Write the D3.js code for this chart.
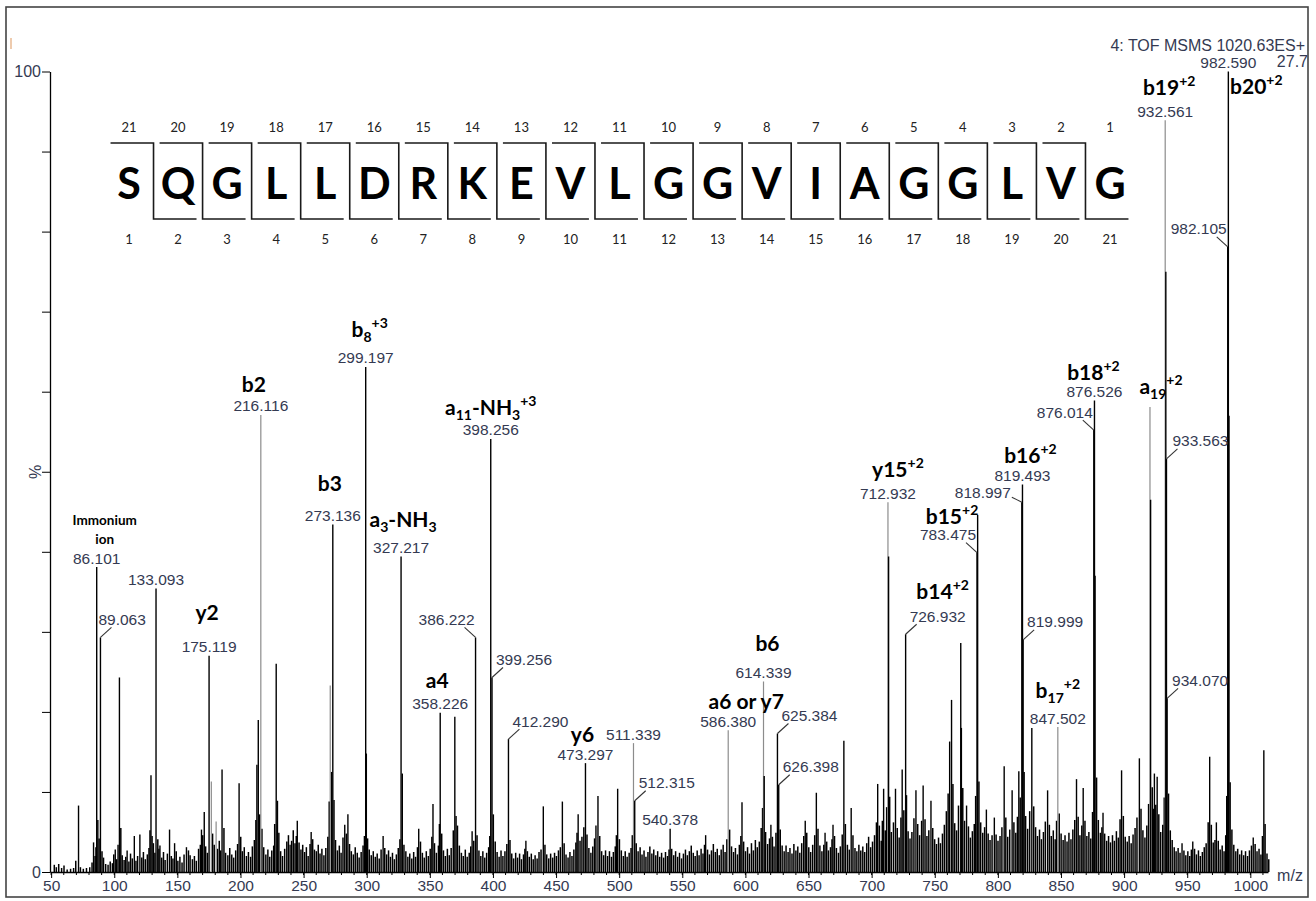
<!DOCTYPE html>
<html>
<head>
<meta charset="utf-8">
<script src="https://cdn.jsdelivr.net/npm/d3@7/dist/d3.min.js"></script>
<style>
  html, body { margin: 0; padding: 0; background: #fff; }
  svg { display: block; }
</style>
</head>
<body>
<div id="chart"></div>
<script>
// peptide sequence (b ions numbered below, y ions above)
const residues = ["S","Q","G","L","L","D","R","K","E","V","L","G","G","V","I","A","G","G","L","V","G"];

// main peaks: [m/z, relative intensity %]
const majorPeaks = [
  [71.7, 8.3], [83.6, 3.7], [86.101, 38.1], [87.0, 6.5], [89.063, 29.3], [100.8, 2.8], [103.0, 3.4],
  [104.1, 24.3], [110.2, 2.7], [115.9, 4.5], [120.3, 4.7], [129.1, 12.1], [130.0, 4.5], [133.093, 35.4],
  [136.2, 3.3], [143.8, 5.3], [147.8, 3.6], [157.2, 3.1], [169.1, 5.3], [171.3, 7.5], [175.119, 27.0],
  [176.9, 11.3], [180.7, 6.3], [185.4, 12.8], [198.9, 11.1], [213.0, 13.4], [214.1, 19.0], [216.116, 57.1],
  [228.3, 26.0], [229.3, 8.9], [239.3, 3.4], [245.0, 6.4], [256.0, 5.0], [271.1, 23.3], [273.136, 43.4],
  [274.1, 9.0], [282.6, 5.9], [285.1, 7.2], [299.197, 63.1], [299.7, 14.8], [313.0, 4.5], [327.217, 39.4],
  [328.2, 12.3], [341.2, 5.4], [352.5, 8.5], [358.226, 19.9], [369.8, 19.4], [370.8, 7.0], [383.5, 5.1],
  [386.222, 29.3], [398.256, 54.1], [399.256, 24.3], [412.290, 16.6], [426.1, 3.9], [439.9, 8.2],
  [455.0, 8.8], [467.5, 7.2], [473.297, 13.6], [481.6, 5.8], [483.2, 9.5], [498.8, 10.4], [511.339, 16.1],
  [512.315, 8.9], [540.378, 5.4], [568.5, 4.6], [586.380, 17.7], [597.3, 8.7], [614.339, 23.8], [614.9, 12.0],
  [620.2, 5.9], [625.384, 17.3], [626.398, 10.9], [647.4, 6.4], [656.2, 9.9], [663.1, 4.9], [669.4, 5.9],
  [678.0, 16.4], [683.8, 8.0], [704.8, 11.0], [709.5, 10.4], [712.932, 46.2], [713.43, 39.4], [718.9, 10.4],
  [724.2, 12.8], [726.932, 29.7], [735.1, 10.2], [740.8, 10.8], [747.0, 8.9], [761.8, 16.3], [763.3, 21.5],
  [770.6, 28.6], [771.1, 18.0], [775.2, 8.3], [783.475, 39.9], [783.976, 44.6], [790.9, 7.8], [797.2, 6.8],
  [805.0, 13.2], [811.3, 10.2], [816.6, 12.6], [818.997, 46.2], [819.493, 48.4], [819.999, 29.0],
  [826.9, 18.0], [839.4, 10.2], [847.502, 18.1], [862.3, 11.6], [867.6, 10.5], [876.014, 55.2],
  [876.526, 58.9], [877.0, 37.0], [883.3, 7.4], [898.0, 12.7], [912.1, 14.2], [920.5, 58.1], [921.0, 46.5],
  [924.0, 12.3], [926.2, 11.9], [932.561, 93.9], [933.063, 75.0], [933.563, 51.6], [934.070, 21.7],
  [945.9, 3.6], [954.4, 3.8], [967.8, 14.4], [973.1, 6.2], [982.105, 78.1], [982.590, 100], [983.1, 57.0],
  [1002.3, 4.3], [1010.7, 15.2]
];

// small background peaks: [m/z, %]
const noisePeaks = [
  [52.5,0.9],[54.1,0.6],[56.0,1.0],[58.3,0.5],[60.2,0.8],[62.7,0.3],[65.4,0.4],[67.8,0.5],[69.5,1.4],[73.2,0.6],
  [75.5,0.4],[78.0,0.5],[80.6,0.6],[82.4,1.2],[84.8,2.0],[85.5,3.1],[88.0,4.2],[90.3,2.6],[91.5,1.8],[93.2,1.0],
  [95.1,0.9],[96.8,1.3],[98.5,1.1],[99.6,2.2],[101.9,1.6],[105.2,5.5],[106.3,2.1],[107.8,1.5],[109.1,1.9],[111.6,1.3],
  [112.9,2.3],[114.3,1.7],[117.2,1.4],[118.5,2.0],[121.8,1.8],[123.1,2.5],[124.6,1.6],[126.2,2.2],[127.5,3.0],[128.3,5.2],
  [131.0,3.6],[132.2,2.4],[134.5,4.1],[135.4,2.9],[137.6,1.8],[139.0,2.5],[140.3,1.5],[142.1,2.3],[145.2,2.0],[146.5,1.7],
  [149.1,2.6],[150.4,1.4],[152.0,1.9],[153.7,1.2],[155.3,2.2],[158.8,2.7],[160.1,2.1],[161.9,1.6],[163.5,2.0],[165.0,1.4],
  [166.8,2.9],[168.2,3.4],[170.1,4.6],[172.4,3.2],[173.8,2.4],[177.9,4.8],[179.2,3.4],[181.8,2.9],[183.2,3.9],[184.3,2.7],
  [186.9,5.5],[188.2,2.4],[190.0,2.1],[191.5,3.0],[193.1,2.2],[194.6,1.8],[196.2,2.7],[197.7,3.5],[200.2,4.4],[201.5,2.6],
  [203.0,3.1],[204.7,2.0],[206.3,2.5],[208.0,1.9],[209.4,3.2],[211.0,4.0],[212.2,6.5],[215.2,7.2],[217.0,5.4],[218.4,3.1],
  [220.1,2.2],[221.7,2.8],[223.2,1.9],[224.8,2.7],[226.3,3.3],[227.1,6.0],[230.4,4.9],[231.8,2.6],[233.3,2.0],[235.0,2.9],
  [236.7,3.8],[238.0,4.6],[240.5,3.9],[241.8,5.2],[243.2,3.6],[244.2,4.5],[246.4,3.7],[247.9,2.8],[249.3,3.4],[250.8,2.5],
  [252.2,3.1],[253.6,2.0],[255.1,3.5],[257.2,4.1],[258.6,2.8],[260.1,2.6],[261.6,3.4],[263.0,2.3],[264.5,2.9],[266.1,2.1],
  [267.6,3.0],[269.2,4.4],[270.3,8.8],[272.2,12.5],[275.3,4.0],[276.8,2.7],[278.3,3.3],[279.7,2.4],[281.2,4.3],[283.9,4.8],
  [286.4,3.5],[287.8,2.6],[289.4,2.2],[290.9,3.1],[292.5,2.4],[294.0,1.8],[295.6,2.5],[297.1,3.3],[298.2,4.5],[300.7,4.2],
  [302.0,2.8],[303.6,2.1],[305.2,2.6],[306.8,1.9],[308.3,2.3],[309.9,1.7],[311.4,2.8],[314.3,3.0],[315.8,2.2],[317.3,2.7],
  [318.8,1.9],[320.4,2.4],[321.9,1.6],[323.5,2.2],[325.0,3.0],[326.3,4.1],[329.5,3.4],[331.0,2.6],[332.6,1.9],[334.1,2.3],
  [335.7,1.7],[337.2,2.5],[338.7,1.9],[340.2,3.1],[342.6,3.8],[344.1,2.4],[345.6,1.8],[347.2,2.6],[348.8,2.0],[350.3,2.9],
  [351.6,4.4],[353.7,3.6],[355.2,2.4],[356.8,3.3],[357.6,6.0],[359.4,4.8],[360.8,2.7],[362.3,2.0],[363.9,2.9],[365.4,2.1],
  [366.9,3.0],[368.6,5.2],[371.9,5.8],[373.4,3.3],[375.0,2.4],[376.5,2.0],[378.1,2.8],[379.6,1.9],[381.2,2.4],[382.4,3.2],
  [384.8,3.9],[387.4,4.6],[388.9,2.7],[390.4,2.0],[392.0,2.6],[393.5,1.8],[395.0,2.4],[396.6,3.1],[397.5,4.5],[400.3,7.2],
  [401.8,3.8],[403.3,2.5],[404.9,1.9],[406.4,2.7],[407.9,2.0],[409.5,2.6],[411.0,3.5],[413.5,4.0],[414.9,2.3],[416.4,1.7],
  [418.0,2.4],[419.5,1.8],[421.1,2.3],[422.6,1.6],[424.2,2.2],[425.3,2.9],[427.3,2.6],[428.8,1.9],[430.4,2.3],[431.9,1.6],
  [433.4,2.1],[435.0,1.7],[436.5,2.5],[438.1,2.8],[441.2,3.4],[442.6,2.2],[444.2,1.7],[445.7,2.3],[447.3,1.8],[448.8,2.4],
  [450.3,2.0],[451.9,2.7],[453.4,3.1],[456.4,3.6],[457.9,2.2],[459.5,1.8],[461.0,2.5],[462.6,2.0],[464.1,2.8],[465.7,3.7],
  [466.6,4.9],[469.0,3.9],[470.5,4.4],[472.0,5.6],[474.5,4.7],[476.0,3.0],[477.6,2.4],[479.1,3.2],[480.5,4.2],[484.6,4.5],
  [486.1,2.6],[487.7,2.1],[489.2,2.7],[490.8,2.0],[492.3,2.6],[493.9,1.9],[495.4,2.5],[496.9,3.2],[497.8,4.6],[500.2,4.1],
  [501.7,2.7],[503.3,2.0],[504.8,2.6],[506.3,1.9],[507.9,2.4],[509.4,3.0],[510.4,4.6],[513.5,3.6],[515.0,2.6],[516.6,3.1],
  [518.1,2.2],[519.7,2.7],[521.2,1.9],[522.8,2.5],[524.3,3.2],[525.9,2.3],[527.4,2.8],[529.0,2.1],[530.5,2.6],[532.1,1.9],
  [533.6,2.4],[535.2,1.8],[536.7,2.5],[538.3,2.0],[539.5,2.8],[541.6,2.9],[543.2,2.1],[544.7,2.6],[546.3,1.9],[547.8,2.4],
  [549.4,1.7],[550.9,2.3],[552.5,2.8],[554.0,2.1],[555.6,2.6],[557.1,3.3],[558.7,2.4],[560.2,2.0],[561.8,2.7],[563.3,2.1],
  [564.9,2.9],[566.4,2.3],[567.6,3.4],[570.0,2.8],[571.5,2.2],[573.1,2.7],[574.6,3.5],[576.2,2.5],[577.7,2.9],[579.3,2.1],
  [580.8,2.8],[582.4,3.4],[583.9,2.5],[585.3,4.1],[587.5,5.3],[589.0,3.2],[590.6,2.5],[592.1,3.0],[593.7,2.2],[595.2,3.4],
  [596.4,4.5],[598.6,3.8],[600.1,2.6],[601.7,3.1],[603.2,2.3],[604.8,3.6],[606.3,2.7],[607.9,4.0],[609.4,3.1],[611.0,3.8],
  [612.5,5.5],[613.6,8.0],[616.0,5.0],[617.6,3.5],[619.1,4.2],[621.4,4.4],[622.7,3.2],[624.2,4.9],[627.6,5.3],[629.1,3.3],
  [630.7,2.6],[632.2,3.3],[633.8,2.5],[635.3,3.0],[636.9,2.3],[638.4,3.5],[640.0,2.7],[641.5,3.2],[643.1,2.4],[644.6,3.6],
  [646.2,4.5],[648.6,4.9],[650.2,3.1],[651.7,2.5],[653.3,3.4],[654.9,4.6],[657.5,5.4],[659.0,3.3],[660.6,2.6],[662.1,3.4],
  [664.4,3.8],[665.8,2.7],[667.4,3.1],[668.6,4.1],[670.6,4.5],[672.1,3.0],[673.7,2.4],[675.2,3.2],[676.7,4.7],[679.2,6.0],
  [680.8,3.4],[682.3,2.8],[685.2,4.6],[686.8,3.0],[688.3,2.6],[689.9,3.4],[691.4,2.7],[693.0,3.2],[694.5,2.5],[696.1,3.6],
  [697.6,4.4],[699.2,3.1],[700.7,3.8],[702.3,4.6],[703.8,6.2],[706.1,5.8],[707.6,3.9],[708.5,6.4],[710.8,5.2],[711.9,8.1],
  [714.3,9.4],[715.6,5.0],[717.3,6.2],[720.3,5.5],[721.8,4.3],[723.2,6.8],[725.5,7.7],[727.6,9.6],[728.9,5.1],[730.4,4.2],
  [731.9,5.0],[733.5,6.7],[736.5,6.0],[738.0,4.6],[739.6,6.4],[742.3,6.6],[743.8,4.5],[745.3,5.2],[748.4,5.5],[749.9,4.1],
  [751.4,3.5],[753.0,4.3],[754.5,3.6],[756.1,4.8],[757.6,5.9],[759.2,7.6],[760.6,9.8],[764.4,11.0],[765.8,6.1],[767.3,5.2],
  [768.8,8.3],[772.2,10.5],[773.6,6.4],[776.7,5.7],[778.2,4.3],[779.8,5.1],[781.3,6.0],[782.4,9.5],[785.0,11.3],[786.4,6.2],
  [788.0,4.9],[789.5,5.6],[792.3,4.8],[793.8,4.0],[795.4,4.6],[798.6,4.7],[800.1,3.9],[801.7,4.5],[803.2,5.6],[806.3,6.8],
  [807.8,4.4],[809.4,5.3],[812.7,6.2],[814.2,4.9],[815.5,6.9],[817.7,9.3],[820.8,12.5],[822.0,7.0],[823.6,5.4],[825.2,7.6],
  [828.4,8.2],[829.9,5.6],[831.4,4.5],[833.0,5.3],[834.5,4.1],[836.1,5.0],[837.6,6.3],[840.8,5.9],[842.3,4.5],[843.9,5.2],
  [845.4,4.1],[846.5,6.4],[848.6,7.3],[850.1,4.8],[851.7,4.0],[853.2,4.6],[854.8,3.8],[856.3,4.9],[857.9,4.1],[859.4,5.3],
  [860.9,6.5],[863.6,6.9],[865.0,4.6],[866.5,5.8],[869.0,6.4],[870.5,4.5],[872.1,5.0],[873.6,4.2],[875.0,7.5],[878.2,11.8],
  [879.6,6.5],[881.2,4.9],[882.4,5.6],[884.6,4.8],[886.2,3.9],[887.7,4.5],[889.2,3.7],[890.8,4.6],[892.3,3.9],[893.9,5.1],
  [895.4,4.3],[896.8,6.6],[899.4,7.0],[900.9,4.4],[902.5,3.8],[904.0,4.5],[905.6,3.6],[907.1,4.7],[908.7,5.5],[910.2,6.8],
  [913.4,7.9],[914.9,5.2],[916.5,4.3],[918.0,5.8],[919.4,8.5],[922.3,10.6],[923.1,7.9],[925.1,8.4],[927.5,7.2],[929.0,5.0],
  [930.6,5.9],[931.8,9.3],[935.2,9.8],[936.6,5.2],[938.1,4.0],[939.7,3.1],[941.2,2.6],[942.8,3.0],[944.3,2.4],[947.4,2.7],
  [948.9,2.1],[950.5,2.6],[952.0,2.0],[953.3,2.8],[955.8,2.9],[957.3,2.2],[958.9,2.7],[960.4,2.0],[962.0,2.5],[963.5,3.1],
  [965.0,3.6],[966.6,6.2],[969.1,5.9],[970.6,3.7],[972.0,4.0],[974.6,3.9],[976.1,2.8],[977.7,3.3],[979.2,2.6],[980.5,4.6],
  [981.3,9.5],[984.0,11.2],[985.4,5.3],[986.9,3.4],[988.5,2.6],[990.0,2.9],[991.6,2.2],[993.1,2.7],[994.7,2.1],[996.2,2.6],
  [997.8,2.0],[999.3,2.7],[1000.9,3.3],[1003.8,3.5],[1005.3,2.6],[1006.9,2.9],[1008.4,2.2],[1009.6,4.5],[1011.7,6.0],
  [1013.2,2.3],[1014.6,1.6]
];

// peaks annotated with their m/z value
const mzLabelled = [86.101, 89.063, 133.093, 175.119, 216.116, 273.136, 299.197, 327.217, 358.226, 386.222,
  398.256, 399.256, 412.290, 473.297, 511.339, 512.315, 540.378, 586.380, 614.339, 625.384, 626.398,
  712.932, 726.932, 783.475, 818.997, 819.493, 819.999, 847.502, 876.014, 876.526, 932.561, 933.563,
  934.070, 982.105, 982.590];

// fragment ion assignments (_ subscript, ^ superscript)
const ionNames = [
  [86.101, "Immonium ion"], [175.119, "y2"], [216.116, "b2"], [273.136, "b3"], [299.197, "b_8^+3"],
  [327.217, "a_3-NH_3"], [358.226, "a4"], [398.256, "a_11-NH_3^+3"], [473.297, "y6"], [586.380, "a6 or y7"],
  [614.339, "b6"], [712.932, "y15^+2"], [726.932, "b14^+2"], [783.475, "b15^+2"], [819.493, "b16^+2"],
  [847.502, "b_17^+2"], [876.526, "b18^+2"], [920.5, "a_19^+2"], [932.561, "b19^+2"], [982.590, "b20^+2"]
];

const xTickValues = [50,100,150,200,250,300,350,400,450,500,550,600,650,700,750,800,850,900,950,1000];
const yTickValues = [0,10,20,30,40,50,60,70,80,90,100];
const yTickLabels = {0: "0", 100: "100"};

// ---- layout / style (not data) ----
const lightPeaks = [216.116, 511.339, 586.380, 614.339, 712.932, 847.502, 920.5, 932.561, 271.1, 176.9, 180.7];
const leaderLayout = new Map([
  [89.063, {side: 1, tx: -2}], [399.256, {side: 1}], [412.290, {side: 1}], [512.315, {side: 1}],
  [625.384, {side: 1}], [626.398, {side: 1}], [726.932, {side: 1}], [819.999, {side: 1}],
  [933.563, {side: 1, tx: 6}], [934.070, {side: 1, tx: 5}],
  [386.222, {side: -1}], [783.475, {side: -1}], [876.014, {side: -1}], [982.105, {side: -1}],
  [818.997, {side: -1, lx: -10, ly: -5, tx: -11, ty: -10}]
]);
const ionLayout = new Map([
  [86.101, [8, -47]], [175.119, [-2, -43]], [216.116, [-7, -30]], [273.136, [-3, -41]], [299.197, [4, -37]],
  [327.217, [2, -37]], [358.226, [-3, -32]], [398.256, [0, -31]], [473.297, [-3, -28]], [586.380, [18, -28]],
  [614.339, [4, -37]], [712.932, [10, -32]], [726.932, [37, -42]], [783.475, [-25, -36]], [819.493, [8, -29]],
  [847.502, [0, -36]], [876.526, [-1, -28]], [920.5, [11, -20]], [932.561, [4, -32]], [982.590, [28, 15]]
]);

const width = 1316, height = 901;
const labelColor = "#343a52";
const numFont = "'Liberation Sans', Arial, sans-serif";
const boldFont = "Lato, 'Open Sans', sans-serif";

let svg = d3.select("#chart").append("svg")
  .attr("width", width)
  .attr("height", height);

// outer frame
svg.append("rect")
  .attr("x", 6).attr("y", 7)
  .attr("width", 1302).attr("height", 890)
  .attr("fill", "none")
  .attr("stroke", "#444")
  .attr("stroke-width", 1.6);

svg.append("line")
  .attr("x1", 11).attr("x2", 11).attr("y1", 38).attr("y2", 49)
  .attr("stroke", "#e3a878").attr("stroke-width", 1.2);

let x = d3.scaleLinear().domain([49.1, 1014.0]).range([50, 1268]);
let y = d3.scaleLinear().domain([0, 100]).range([872, 71.5]);

// x axis with minor ticks
let gx = svg.append("g").attr("transform", "translate(0,872)");
gx.call(d3.axisBottom(x).tickValues(xTickValues).tickSize(6).tickPadding(2).tickSizeOuter(0)
  .tickFormat(d3.format("d")));
gx.selectAll(".minor").data(x.ticks(100)).enter().append("line")
  .attr("class", "minor")
  .attr("x1", d => x(d)).attr("x2", d => x(d))
  .attr("y1", 0).attr("y2", 3)
  .attr("stroke", "#000");
gx.select(".domain").attr("stroke", "#000").attr("stroke-width", 1.6);
gx.selectAll(".tick line").attr("stroke", "#000");
gx.selectAll(".tick text")
  .attr("font-family", numFont).attr("font-size", 15.5).attr("fill", labelColor);

// y axis
let gy = svg.append("g").attr("transform", "translate(50,0)");
gy.call(d3.axisLeft(y).tickValues(yTickValues).tickSize(8).tickPadding(1).tickSizeOuter(0)
  .tickFormat(d => yTickLabels[d] || ""));
gy.select(".domain").attr("stroke", "#000").attr("stroke-width", 1.3);
gy.selectAll(".tick line").attr("stroke", "#000");
gy.selectAll(".tick text")
  .attr("font-family", numFont).attr("font-size", 16).attr("fill", labelColor);

svg.append("text")
  .attr("transform", "translate(41,472) rotate(-90)")
  .attr("text-anchor", "middle")
  .attr("font-family", numFont).attr("font-size", 16).attr("fill", labelColor)
  .text("%");

svg.append("text")
  .attr("x", 1290).attr("y", 881)
  .attr("text-anchor", "middle")
  .attr("font-family", numFont).attr("font-size", 16).attr("fill", labelColor)
  .text("m/z");

// header
svg.append("text")
  .attr("x", 1305).attr("y", 51)
  .attr("text-anchor", "end")
  .attr("font-family", numFont).attr("font-size", 16).attr("fill", labelColor)
  .text("4: TOF MSMS 1020.63ES+");
svg.append("text")
  .attr("x", 1308).attr("y", 67)
  .attr("text-anchor", "end")
  .attr("font-family", numFont).attr("font-size", 16).attr("fill", labelColor)
  .text("27.7");

// spectrum sticks
let isLight = d => lightPeaks.includes(d[0]);
let sticks = svg.append("g");
sticks.selectAll(".noise").data(noisePeaks).enter().append("line")
  .attr("class", "noise")
  .attr("x1", d => x(d[0])).attr("x2", d => x(d[0]))
  .attr("y1", y(0)).attr("y2", d => y(d[1]))
  .attr("stroke", "#000").attr("stroke-width", 1.5);
sticks.selectAll(".light").data(majorPeaks.filter(isLight)).enter().append("line")
  .attr("class", "light")
  .attr("x1", d => x(d[0])).attr("x2", d => x(d[0]))
  .attr("y1", y(0)).attr("y2", d => y(d[1]))
  .attr("stroke", "#8c8c8c").attr("stroke-width", 1.2);
sticks.selectAll(".peak").data(majorPeaks.filter(d => !isLight(d))).enter().append("line")
  .attr("class", "peak")
  .attr("x1", d => x(d[0])).attr("x2", d => x(d[0]))
  .attr("y1", y(0)).attr("y2", d => y(d[1]))
  .attr("stroke", "#000").attr("stroke-width", 1.4);

// m/z labels
let peakTop = mz => {
  let p = majorPeaks.find(d => d[0] === mz);
  return [x(mz), y(p[1])];
};
let fmt = d3.format(".3f");
let lab = svg.append("g")
  .attr("font-family", numFont).attr("font-size", 15.5).attr("fill", labelColor);
mzLabelled.forEach(mz => {
  let [px, py] = peakTop(mz);
  let l = leaderLayout.get(mz);
  if (!l) {
    lab.append("text").attr("x", px).attr("y", py - 3.5)
      .attr("text-anchor", "middle").text(fmt(mz));
    return;
  }
  let lx = l.lx !== undefined ? l.lx : 11 * l.side;
  let ly = l.ly !== undefined ? l.ly : -10;
  let tx = l.tx !== undefined ? l.tx : (l.side > 0 ? 4 : -1);
  let ty = l.ty !== undefined ? l.ty : -18;
  svg.append("line")
    .attr("x1", px).attr("y1", py)
    .attr("x2", px + lx).attr("y2", py + ly)
    .attr("stroke", "#333").attr("stroke-width", 1.1);
  lab.append("text").attr("x", px + tx).attr("y", py + ty + 5.5)
    .attr("text-anchor", l.side > 0 ? "start" : "end").text(fmt(mz));
});

// ion annotations
let ions = svg.append("g")
  .attr("font-family", boldFont).attr("font-weight", 700).attr("fill", "#000");
ionNames.forEach(([mz, name]) => {
  let [px, py] = peakTop(mz);
  let [dx, dy] = ionLayout.get(mz);
  if (name === "Immonium ion") {
    name.split(" ").forEach((w, i) => {
      ions.append("text").attr("x", px + dx).attr("y", py + dy + 5 + i * 19)
        .attr("text-anchor", "middle").attr("font-size", 13.5).text(w);
    });
    return;
  }
  let t = ions.append("text").attr("x", px + dx).attr("y", py + dy + 7)
    .attr("text-anchor", "middle").attr("font-size", 21);
  let parts = name.match(/[_^][^_^\-]+|[^_^]+?(?=[_^]|$)/g);
  let shift = 0;
  parts.forEach(p => {
    let target = 0, txt = p, size = 21;
    if (p[0] === "_") { target = 5; txt = p.slice(1); size = 14; }
    if (p[0] === "^") { target = -9; txt = p.slice(1); size = 14; }
    t.append("tspan").attr("dy", target - shift).attr("font-size", size).text(txt);
    shift = target;
  });
});

// peptide sequence ladder
let pos = d3.scalePoint().domain(d3.range(residues.length)).range([129, 1110]);
let step = pos.step();
let seq = svg.append("g");
seq.selectAll(".res").data(residues).enter().append("text")
  .attr("class", "res")
  .attr("x", (d, i) => pos(i)).attr("y", 198.5)
  .attr("text-anchor", "middle")
  .attr("font-family", boldFont).attr("font-weight", 700).attr("font-size", 43)
  .attr("fill", "#000")
  .text(d => d);
seq.selectAll(".cut").data(residues.slice(1)).enter().append("path")
  .attr("class", "cut")
  .attr("d", (d, i) => {
    let v = pos(i) + step / 2;
    return `M${v - 43},143H${v}V219H${v + 43}`;
  })
  .attr("fill", "none").attr("stroke", "#1a1a1a").attr("stroke-width", 1.6);
seq.selectAll(".ynum").data(residues).enter().append("text")
  .attr("class", "ynum")
  .attr("x", (d, i) => pos(i)).attr("y", 132)
  .attr("text-anchor", "middle")
  .attr("font-family", boldFont).attr("font-size", 13).attr("fill", "#222")
  .text((d, i) => residues.length - i);
seq.selectAll(".bnum").data(residues).enter().append("text")
  .attr("class", "bnum")
  .attr("x", (d, i) => pos(i)).attr("y", 244)
  .attr("text-anchor", "middle")
  .attr("font-family", boldFont).attr("font-size", 13).attr("fill", "#222")
  .text((d, i) => i + 1);
</script>
</body>
</html>
